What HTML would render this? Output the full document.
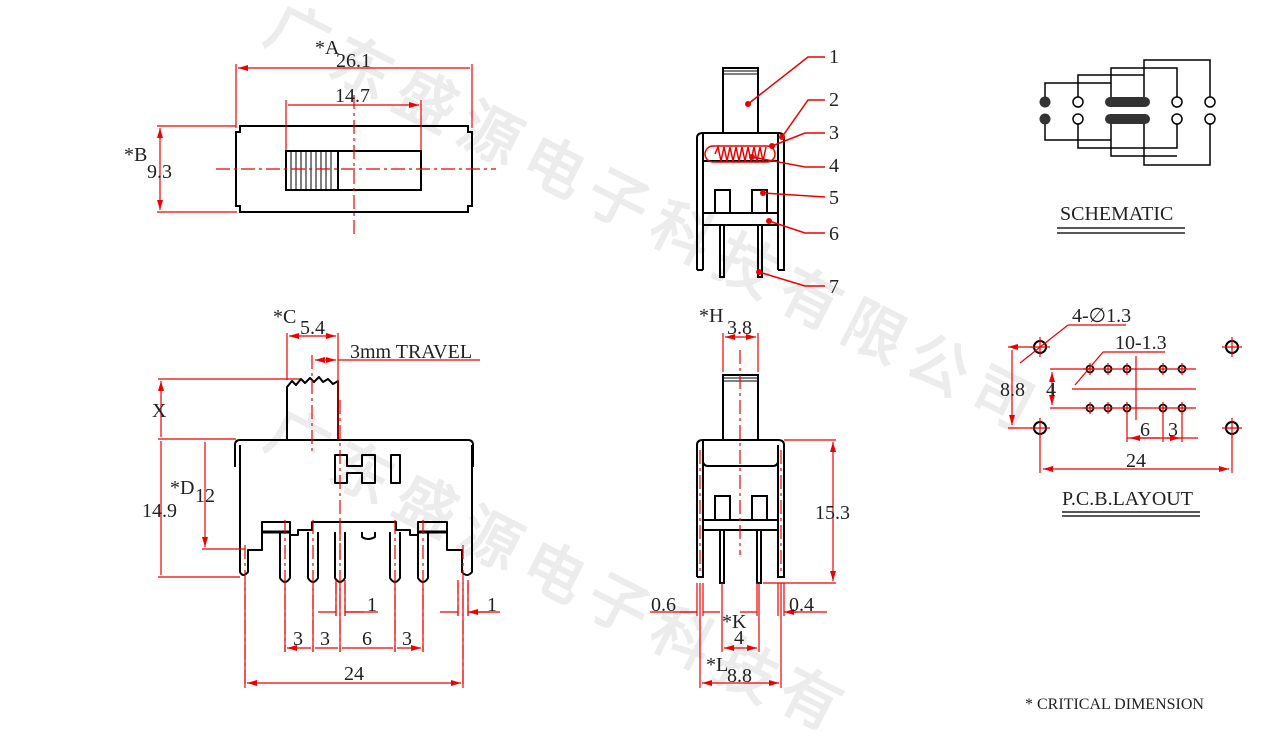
<!DOCTYPE html>
<html><head><meta charset="utf-8"><style>
html,body{margin:0;padding:0;background:#fff;width:1265px;height:744px;overflow:hidden;}
svg{display:block;overflow:hidden;}
text{font-family:"Liberation Serif",serif;}
</style></head><body>
<svg width="1265" height="744" viewBox="0 0 1265 744" xmlns="http://www.w3.org/2000/svg">
<defs>
<marker id="a" viewBox="0 0 10 6" refX="10" refY="3" markerWidth="10" markerHeight="6" orient="auto-start-reverse" markerUnits="userSpaceOnUse"><path d="M0,0 L10,3 L0,6z" fill="#e00"/></marker>
</defs>
<g fill="#ececec" font-size="60" font-weight="bold" font-family="'Noto Sans CJK SC',sans-serif" style="font-family:'Noto Sans CJK SC',sans-serif">
<text transform="translate(262,40) rotate(27)">广</text>
<text transform="translate(326,73) rotate(27)">东</text>
<text transform="translate(390,106) rotate(27)">盛</text>
<text transform="translate(454,139) rotate(27)">源</text>
<text transform="translate(518,172) rotate(27)">电</text>
<text transform="translate(582,205) rotate(27)">子</text>
<text transform="translate(646,238) rotate(27)">科</text>
<text transform="translate(710,271) rotate(27)">技</text>
<text transform="translate(774,304) rotate(27)">有</text>
<text transform="translate(838,337) rotate(27)">限</text>
<text transform="translate(902,370) rotate(27)">公</text>
<text transform="translate(966,403) rotate(27)">司</text>
<text transform="translate(262,445) rotate(27)">广</text>
<text transform="translate(326,478) rotate(27)">东</text>
<text transform="translate(390,511) rotate(27)">盛</text>
<text transform="translate(454,544) rotate(27)">源</text>
<text transform="translate(518,577) rotate(27)">电</text>
<text transform="translate(582,610) rotate(27)">子</text>
<text transform="translate(646,643) rotate(27)">科</text>
<text transform="translate(710,676) rotate(27)">技</text>
<text transform="translate(774,704) rotate(27)">有</text>
</g>

<g fill="none" stroke="#000" stroke-width="2">
<path d="M240,126 H468 V132 H472 V206 H468 V212 H240 V206 H236 V132 H240 Z"/>
<rect x="286" y="151" width="135" height="39"/>
<rect x="286" y="151" width="52" height="39" fill="#fff"/>
</g>
<g stroke="#000" stroke-width="1">
<path d="M291,151V190M296,151V190M301,151V190M306,151V190M311,151V190M316,151V190M321,151V190M326,151V190M331,151V190"/>
</g>

<g fill="none" stroke="#000" stroke-width="2" stroke-linejoin="round">
<path d="M287,440 V387 L292,381 L296,385 L301,379 L305,383 L310,378 L314,382 L319,377 L323,382 L328,379 L333,384 L338,381 V440"/>
<path d="M235,467 V445 Q235,440 240,440 H468 Q473,440 473,445 V467"/>
<path d="M240,445 V572 Q243,578 248,572 V550 H262 V522 H290 V535 H298 V530 H312 V522 H396 V530 H410 V535 H418 V522 H447 V550 H462 V572 Q467,578 472,572 V445"/>
<path d="M262,532 H290 M418,532 H447" stroke-width="3"/>
<path d="M280,532 V578 Q285,586 290,578 V532"/>
<path d="M308,532 V578 Q313,586 318,578 V532"/>
<path d="M335,532 V578 Q340,586 345,578 V532"/>
<path d="M390,532 V578 Q395,586 400,578 V532"/>
<path d="M418,532 V578 Q423,586 428,578 V532"/>
<path d="M362,532 V537 Q368,541 375,537 V532"/>
<path d="M335,455 H347 V466 H362 V455 H375 V483 H362 V473 H347 V483 H335 Z"/>
<rect x="391" y="455" width="9" height="28"/>
</g>

<g fill="none" stroke="#000" stroke-width="2">
<rect x="723" y="68" width="35" height="65"/>
<path d="M723,71 H758 M723,74 H758" stroke-width="1"/>
<path d="M703,270 V133 H778 V270" />
<path d="M697,270 V138 Q697,133 703,133 M778,133 Q784,133 784,138 V270 H778 M697,270 H703"/>
<path d="M703,161 H778"/>
<path d="M703,213 H778 M703,225 H778"/>
<path d="M715,213 V190 H730 V213 M752,213 V190 H767 V213"/>
<path d="M720,225 V277 H724 V225 M758,225 V277 H762 V225"/>
</g>
<g fill="none" stroke="#e00" stroke-width="1.5">
<rect x="705" y="146" width="70" height="16" rx="8"/>
<path d="M715,154 L718,147 L721,161 L724,147 L727,161 L730,147 L733,161 L736,147 L739,161 L742,147 L745,161 L748,147 L751,161 L754,147 L757,161 L760,147 L763,161 L766,147"/>
</g>

<g fill="none" stroke="#000" stroke-width="2">
<rect x="723" y="375" width="35" height="65"/>
<path d="M723,378 H758 M723,381 H758" stroke-width="1"/>
<path d="M697,577 V445 Q697,440 703,440 H778 Q784,440 784,445 V577 H778 V445 M697,577 H703 V445"/>
<path d="M703,440 V462 Q704,466 708,466 H773 Q777,466 778,462"/>
<path d="M703,520 H778 M703,530 H778"/>
<path d="M715,520 V496 H730 V520 M752,520 V496 H767 V520"/>
<path d="M720,530 V583 H724 V530 M757,530 V583 H761 V530"/>
</g>

<g fill="none" stroke="#000" stroke-width="1.5">
<path d="M1045,97 V83 H1111 V97 M1078,97 V75 H1144 V97 M1111,83 V68 H1177 V97 M1144,75 V60 H1210 V97"/>
<path d="M1045,124 V140 H1111 V124 M1078,124 V148 H1177 V124 M1111,140 V156 H1177 M1144,124 V165 H1210 V124"/>
<circle cx="1078" cy="102" r="5"/><circle cx="1078" cy="119" r="5"/>
<circle cx="1177" cy="102" r="5"/><circle cx="1177" cy="119" r="5"/>
<circle cx="1210" cy="102" r="5"/><circle cx="1210" cy="119" r="5"/>
</g>
<g fill="#333">
<circle cx="1045" cy="102" r="5.5"/><circle cx="1045" cy="119" r="5.5"/>
<rect x="1105" y="97" width="45" height="10" rx="5"/>
<rect x="1105" y="114" width="45" height="10" rx="5"/>
</g>
<text x="1060" y="220" font-size="20" fill="#222">SCHEMATIC</text>
<path d="M1057,228 H1185 M1057,233 H1185" stroke="#222" stroke-width="1.5"/>

<g fill="none" stroke="#000" stroke-width="2">
<circle cx="1040" cy="347" r="6"/><circle cx="1040" cy="428" r="6"/>
<circle cx="1232" cy="347" r="6"/><circle cx="1232" cy="428" r="6"/>
<g stroke-width="1.8">
<circle cx="1090" cy="369" r="3.5"/><circle cx="1108" cy="369" r="3.5"/><circle cx="1127" cy="369" r="3.5"/><circle cx="1163" cy="369" r="3.5"/><circle cx="1182" cy="369" r="3.5"/>
<circle cx="1090" cy="408" r="3.5"/><circle cx="1108" cy="408" r="3.5"/><circle cx="1127" cy="408" r="3.5"/><circle cx="1163" cy="408" r="3.5"/><circle cx="1182" cy="408" r="3.5"/>
</g>
</g>
<g stroke="#e00" stroke-width="1.2" fill="none">
<path d="M1030,347H1050M1040,337V357M1030,428H1050M1040,418V438M1222,347H1242M1232,337V357M1222,428H1242M1232,418V438"/>
<path d="M1083,369H1196M1083,408H1196M1090,363V375M1108,363V375M1127,363V375M1163,363V375M1182,363V375M1090,402V414M1108,402V414M1127,402V414M1163,402V414M1182,402V414"/>
<path d="M1008,347H1034M1008,428H1034M1012,350V425" marker-start="url(#a)" marker-end="url(#a)"/>
<path d="M1050,369H1086M1050,408H1086"/>
<path d="M1052,372V405" marker-start="url(#a)" marker-end="url(#a)"/>
<path d="M1072,389H1196M1136,356V420"/>
<path d="M1127,412V442M1163,412V442M1182,412V442M1127,438H1198"/>
<path d="M1130,438H1160M1166,438H1180" marker-start="url(#a)" marker-end="url(#a)"/>
<path d="M1040,434V473M1232,434V473"/>
<path d="M1043,469H1229" marker-start="url(#a)" marker-end="url(#a)"/>
<path d="M1068,325H1126M1068,325L1020,363M1103,352H1165M1103,352L1075,385"/>
</g>
<g font-size="20" fill="#222">
<text x="1072" y="322">4-∅1.3</text>
<text x="1115" y="349">10-1.3</text>
<text x="1000" y="396">8.8</text>
<text x="1046" y="396">4</text>
<text x="1140" y="436">6</text>
<text x="1168" y="436">3</text>
<text x="1126" y="467">24</text>
<text x="1062" y="505">P.C.B.LAYOUT</text>
</g>
<path d="M1062,512 H1200 M1062,516 H1200" stroke="#222" stroke-width="1.5"/>
<text x="1025" y="709" font-size="16" fill="#222">* CRITICAL  DIMENSION</text>

<g stroke="#e00" stroke-width="1.2" fill="none">
<path d="M216,169H496" stroke-dasharray="14,4,3,4"/>
<path d="M354,95V235" stroke-dasharray="14,4,3,4"/>
<path d="M236,64V128M472,64V128M286,100V150M421,100V150"/>
<path d="M238,68H470M288,105H419" marker-start="url(#a)" marker-end="url(#a)"/>
<path d="M157,126H236M157,212H237"/>
<path d="M160,128V210" marker-start="url(#a)" marker-end="url(#a)"/>
<path d="M312,355V455M340,400V560" stroke-dasharray="14,4,3,4"/>
<path d="M287,333V380M338,333V440"/>
<path d="M289,336H336" marker-start="url(#a)" marker-end="url(#a)"/>
<path d="M315,360H336" marker-start="url(#a)" marker-end="url(#a)"/>
<path d="M338,360H480"/>
<path d="M158,379H300M158,439H236M158,577H240M202,549H245"/>
<path d="M161,381V437M161,441V575M205,442V547" marker-start="url(#a)" marker-end="url(#a)"/>
<path d="M245,545V688M463,545V688M285,520V652M313,520V652M340,520V652M395,520V652M423,520V652M336,580V616M345,580V616M458,580V616M468,580V616" stroke-dasharray="14,4,3,4"/>
<path d="M285,583V652M313,583V652M340,583V652M395,583V652M423,583V652M245,583V688M463,583V688M336,583V616M345,583V616M458,583V616M468,583V616"/>
<path d="M318,612H336M364,612H345M440,612H458M490,612H468" marker-end="url(#a)"/>
<path d="M345,612H378M468,612H500"/>
<path d="M287,648H311M315,648H338M342,648H393M397,648H421" marker-start="url(#a)" marker-end="url(#a)"/>
<path d="M247,683H461" marker-start="url(#a)" marker-end="url(#a)"/>
<path d="M740,350V555" stroke-dasharray="14,4,3,4"/>
<path d="M700,450V575M781,450V575" stroke-dasharray="14,4,3,4"/>
<path d="M723,333V372M758,333V372"/>
<path d="M725,337H756" marker-start="url(#a)" marker-end="url(#a)"/>
<path d="M784,440H836M763,583H836"/>
<path d="M833,442V581" marker-start="url(#a)" marker-end="url(#a)"/>
<path d="M697,583V616M703,583V616M700,583V688M722,583V652M759,583V652M757,583V616M778,583V616M784,583V616M781,583V688"/>
<path d="M650,612H697M790,612H827"/>
<path d="M680,612H697M720,612H703M740,612H757M798,612H784" marker-end="url(#a)"/>
<path d="M724,648H757" marker-start="url(#a)" marker-end="url(#a)"/>
<path d="M702,683H779" marker-start="url(#a)" marker-end="url(#a)"/>
<path d="M748,104L808,57H825M782,137L808,100H825M772,146L805,133H825M752,157L805,167H825M763,193L825,197M769,221L805,233H825M759,272L805,286H825" stroke-width="1.5"/>
</g>
<g fill="#e00">
<circle cx="748" cy="104" r="3"/><circle cx="782" cy="137" r="3"/><circle cx="772" cy="146" r="3"/><circle cx="752" cy="157" r="3"/><circle cx="763" cy="193" r="3"/><circle cx="769" cy="221" r="3"/><circle cx="759" cy="272" r="3"/>
</g>
<g font-size="20" fill="#222">
<text x="829" y="63">1</text><text x="829" y="106">2</text><text x="829" y="139">3</text><text x="829" y="172">4</text><text x="829" y="204">5</text><text x="829" y="240">6</text><text x="829" y="293">7</text>
<text x="315" y="54">*A</text><text x="336" y="67">26.1</text>
<text x="335" y="102">14.7</text>
<text x="124" y="161">*B</text><text x="147" y="178">9.3</text>
<text x="273" y="323">*C</text><text x="300" y="334">5.4</text>
<text x="350" y="358">3mm TRAVEL</text>
<text x="152" y="417">X</text>
<text x="170" y="494">*D</text><text x="195" y="502">12</text>
<text x="142" y="517">14.9</text>
<text x="367" y="611">1</text><text x="487" y="611">1</text>
<text x="293" y="645">3</text><text x="320" y="645">3</text><text x="362" y="645">6</text><text x="402" y="645">3</text>
<text x="344" y="680">24</text>
<text x="699" y="322">*H</text><text x="727" y="334">3.8</text>
<text x="815" y="519">15.3</text>
<text x="651" y="611">0.6</text><text x="789" y="611">0.4</text>
<text x="722" y="628">*K</text><text x="734" y="644">4</text>
<text x="706" y="671">*L</text><text x="727" y="682">8.8</text>
</g>
</svg>
</body></html>
